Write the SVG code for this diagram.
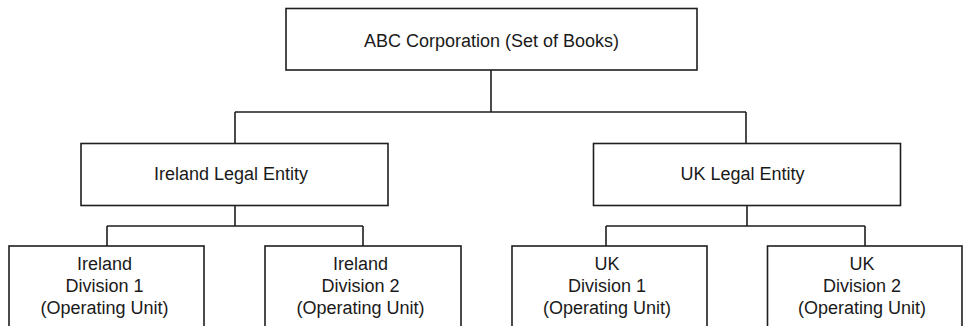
<svg xmlns="http://www.w3.org/2000/svg" width="964" height="326" viewBox="0 0 964 326">
<style>
.box{fill:#fff;stroke:#1e1e1e;stroke-width:1.6}
.ln{fill:none;stroke:#1e1e1e;stroke-width:1.6}
text{font-family:"Liberation Sans",Arial,sans-serif;font-size:18px;fill:#1a1a1a;text-anchor:middle}
</style>
<rect width="964" height="326" fill="#fff"/>
<g id="connectors">
<path class="ln" d="M491 70V112M235 112H746M235 112V143M746 112V143"/>
<path class="ln" d="M235 206V226M107 226H363M107 226V246M363 226V246"/>
<path class="ln" d="M747 206V226M606 226H865M606 226V246M865 226V246"/>
</g>
<g id="abc"><rect class="box" x="286" y="8.5" width="411" height="61.5"/><text x="491.5" y="47">ABC Corporation (Set of Books)</text></g>
<g id="ireland"><rect class="box" x="81" y="143.5" width="307" height="62"/><text x="231" y="180">Ireland Legal Entity</text></g>
<g id="uk"><rect class="box" x="593.5" y="143.5" width="307" height="62"/><text x="742.5" y="180">UK Legal Entity</text></g>
<g id="ie-div1"><rect class="box" x="9" y="246" width="195" height="100"/><text x="104.5" y="270">Ireland</text><text x="104.5" y="292">Division 1</text><text x="104.5" y="314">(Operating Unit)</text></g>
<g id="ie-div2"><rect class="box" x="265" y="246" width="196" height="100"/><text x="360.5" y="270">Ireland</text><text x="360.5" y="292">Division 2</text><text x="360.5" y="314">(Operating Unit)</text></g>
<g id="uk-div1"><rect class="box" x="512" y="246" width="195" height="100"/><text x="607" y="270">UK</text><text x="607" y="292">Division 1</text><text x="607" y="314">(Operating Unit)</text></g>
<g id="uk-div2"><rect class="box" x="767.5" y="246" width="194.5" height="100"/><text x="862" y="270">UK</text><text x="862" y="292">Division 2</text><text x="862" y="314">(Operating Unit)</text></g>
</svg>
